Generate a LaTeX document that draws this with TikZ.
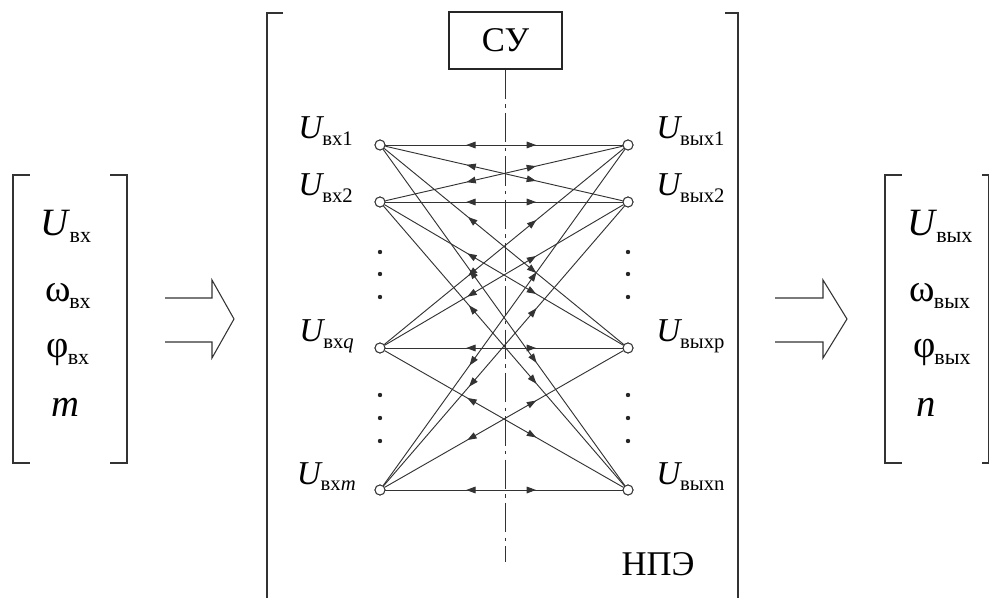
\documentclass[tikz,border=0pt]{standalone}
\usepackage{fontspec}
\setmainfont{Liberation Serif}
\usetikzlibrary{arrows.meta,decorations.markings}
\newcommand\Ulab[2]{{\fontsize{25}{25}\selectfont\textit{#1}}\kern-1.5pt\raisebox{-5pt}{\fontsize{15.5}{15.5}\selectfont #2}}
\newcommand\Mlab[2]{{\fontsize{29}{29}\selectfont #1}\kern-1pt\raisebox{-5pt}{\fontsize{16.5}{16.5}\selectfont #2}}
\begin{document}
\begin{tikzpicture}[x=0.75pt,y=-0.75pt,
  pt/.style={draw=black!80,line width=0.7pt,fill=white,circle,minimum size=7.5pt,inner sep=0pt},
  dotc/.style={fill=black!85,circle,minimum size=3.3pt,inner sep=0pt},
  conn/.style={draw=black!80,line width=0.7pt,postaction={decorate},
    decoration={markings,
      mark=at position 0.38 with {\arrow{Triangle[length=7pt,width=5pt,reversed]}},
      mark=at position 0.635 with {\arrow{Triangle[length=7pt,width=5pt]}}}},
  brk/.style={draw=black!80,line width=1pt},
  hol/.style={draw=black!80,line width=0.8pt,line join=miter},
  lab/.style={inner sep=0pt},
  big/.style={inner sep=0pt,anchor=base}]
\useasboundingbox (0,0) rectangle (989,598);

% brackets
\draw[brk] (30,175) -- (13,175) -- (13,463) -- (30,463);
\draw[brk] (110,175) -- (127,175) -- (127,463) -- (110,463);
\draw[brk] (283,13) -- (267,13) -- (267,598);
\draw[brk] (725,13) -- (738,13) -- (738,598);
\draw[brk] (902,175) -- (885,175) -- (885,463) -- (902,463);
\draw[brk] (982,175) -- (988.5,175) -- (988.5,463) -- (982,463);

% left matrix
\node[big] (lu) at (66,236) {\Mlab{\textit{U}}{вх}};
\node[big] (lw) at (68,302) {\Mlab{ω}{вх}};
\node[big] (lf) at (68,358) {\Mlab{φ}{вх}};
\node[big] (lm) at (65,417) {{\fontsize{29}{29}\selectfont\textit{m}}};
% right matrix
\node[big] (ru) at (940,236) {\Mlab{\textit{U}}{вых}};
\node[big] (rw) at (940,302) {\Mlab{ω}{вых}};
\node[big] (rf) at (942,358) {\Mlab{φ}{вых}};
\node[big] (rn) at (926,417) {{\fontsize{29}{29}\selectfont\textit{n}}};

% hollow arrows
\draw[hol] (165,298) -- (212,298) -- (212,280) -- (234,319) -- (212,358) -- (212,342) -- (165,342);
\draw[hol] (775,298) -- (823,298) -- (823,280) -- (847,319) -- (823,358) -- (823,342) -- (775,342);

% control box and axis
\node[draw=black!85,line width=0.8pt,minimum width=84.75pt,minimum height=42.75pt,inner sep=0pt]
  (su) at (505.5,40.5) {\fontsize{26}{26}\selectfont СУ};
\coordinate (cend) at (505.5,562);
\draw[black!80,line width=0.7pt,dash pattern=on 22pt off 4pt on 2.5pt off 4pt] (su.south) -- (cend);

% nodes
\node[pt] (a1) at (380,145) {};
\node[pt] (a2) at (380,202) {};
\node[pt] (aq) at (380,348) {};
\node[pt] (am) at (380,490) {};
\node[pt] (b1) at (628,145) {};
\node[pt] (b2) at (628,202) {};
\node[pt] (bq) at (628,348) {};
\node[pt] (bm) at (628,490) {};

\foreach \i in {a1,a2,aq,am}
  \foreach \j in {b1,b2,bq,bm}
    \draw[conn] (\i) -- (\j);

% redraw circles on top
\foreach \n/\x/\y in {a1/380/145,a2/380/202,aq/380/348,am/380/490,b1/628/145,b2/628/202,bq/628/348,bm/628/490}
  \node[pt] (c\n) at (\x,\y) {};

% dots
\foreach \k/\y in {1/252,2/274,3/297,4/395,5/418,6/441}{
  \node[dotc] (dl\k) at (380,\y) {};
  \node[dotc] (dr\k) at (628,\y) {};
}

% labels
\node[lab,anchor=base east] (la1) at (353,139) {\Ulab{U}{вх1}};
\node[lab,anchor=base east] (la2) at (353,196) {\Ulab{U}{вх2}};
\node[lab,anchor=base east] (laq) at (354,342) {\Ulab{U}{вх\textit{q}}};
\node[lab,anchor=base east] (lam) at (356,484) {\Ulab{U}{вх\textit{m}}};
\node[lab,anchor=base west] (lb1) at (656,139) {\Ulab{U}{вых1}};
\node[lab,anchor=base west] (lb2) at (656,196) {\Ulab{U}{вых2}};
\node[lab,anchor=base west] (lbq) at (656,342) {\Ulab{U}{выхp}};
\node[lab,anchor=base west] (lbm) at (656,484) {\Ulab{U}{выхn}};

\node[lab,anchor=base] (npe) at (658,575) {\fontsize{26}{26}\selectfont НПЭ};
\end{tikzpicture}
\end{document}
